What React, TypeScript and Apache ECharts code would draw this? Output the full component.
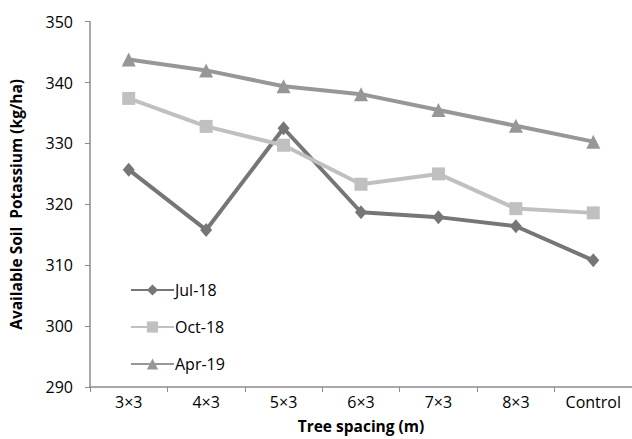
import React, { useEffect, useRef } from "react";
import * as echarts from "echarts";

const categories = ["3×3", "4×3", "5×3", "6×3", "7×3", "8×3", "Control"];
const jul18 = [325.7, 315.8, 332.5, 318.7, 317.9, 316.4, 310.8];
const oct18 = [337.4, 332.8, 329.7, 323.3, 325.0, 319.3, 318.6];
const apr19 = [343.8, 342.0, 339.4, 338.1, 335.5, 332.9, 330.3];
const yTicks = { min: 290, max: 350, interval: 10 };

const FONT = "'Open Sans', 'Noto Sans', sans-serif";

export default function App() {
  const ref = useRef<HTMLDivElement>(null);
  useEffect(() => {
    if (!ref.current) return;
    const chart = echarts.init(ref.current, null, { renderer: "svg" });
    const mk = (name: string, data: number[], color: string, symbol: string, size: any) => ({
      name,
      type: "line",
      data,
      symbol,
      symbolSize: size,
      showSymbol: true,
      lineStyle: { color, width: 4 },
      itemStyle: { color, borderWidth: 0 },
      emphasis: { disabled: true },
    });
    chart.setOption({
      animation: false,
      textStyle: { fontFamily: FONT },
      grid: { left: 88, top: 21.7, width: 548, height: 369.8, containLabel: false },
      legend: {
        orient: "vertical",
        left: 125,
        top: 277,
        itemGap: 21,
        itemWidth: 43,
        itemHeight: 14,
        textStyle: { fontFamily: FONT, fontSize: 16, lineHeight: 14, color: "#000", padding: [0, 0, 0, -4] },
        data: ["Jul-18", "Oct-18", "Apr-19"],
      },
      xAxis: {
        type: "category",
        data: categories,
        boundaryGap: true,
        name: "Tree spacing (m)",
        nameLocation: "middle",
        nameGap: 31,
        nameTextStyle: { fontFamily: FONT, fontSize: 15.5, fontWeight: "bold", color: "#000" },
        axisLine: { lineStyle: { color: "#8c8c8c", width: 1.5 } },
        axisTick: { show: true, alignWithLabel: false, interval: 0, length: 5, lineStyle: { color: "#8c8c8c" } },
        axisLabel: { color: "#000", fontSize: 16, fontFamily: FONT, margin: 7, interval: 0 },
        splitLine: { show: false },
      },
      yAxis: {
        type: "value",
        min: yTicks.min,
        max: yTicks.max,
        interval: yTicks.interval,
        name: "Available Soil  Potassium (kg/ha)",
        nameLocation: "middle",
        nameGap: 66,
        nameRotate: 90,
        nameTextStyle: { fontFamily: FONT, fontSize: 15.5, fontWeight: "bold", color: "#000" },
        axisLine: { show: true, lineStyle: { color: "#8c8c8c", width: 1.5 } },
        axisTick: { show: true, length: 5, lineStyle: { color: "#8c8c8c" } },
        axisLabel: { color: "#000", fontSize: 16, fontFamily: FONT, margin: 17 },
        splitLine: { show: false },
      },
      series: [
        mk("Jul-18", jul18, "#767676", "diamond", [12, 14]),
        mk("Oct-18", oct18, "#c0c0c0", "rect", 13),
        mk("Apr-19", apr19, "#979797", "triangle", 14),
      ],
    });
    return () => chart.dispose();
  }, []);
  return (
    <div
      ref={ref}
      style={{ position: "fixed", left: 0, top: 0, width: 632, height: 439, background: "#fff" }}
    />
  );
}
